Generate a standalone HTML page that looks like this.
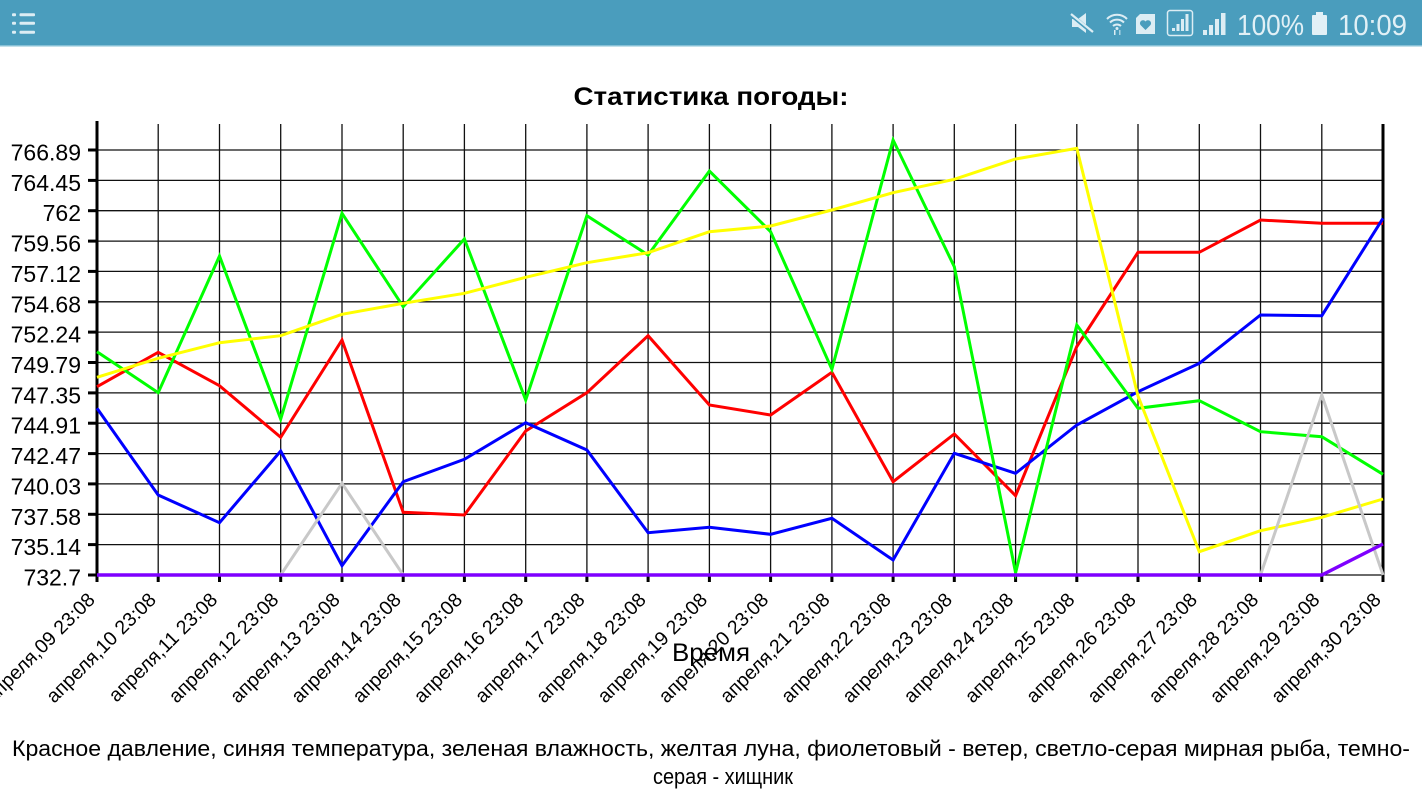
<!DOCTYPE html>
<html>
<head>
<meta charset="utf-8">
<style>
html,body{margin:0;padding:0;background:#fff;}
svg{display:block;}
text{font-family:"Liberation Sans","DejaVu Sans",sans-serif;}
</style>
</head>
<body>
<svg width="1422" height="800" viewBox="0 0 1422 800" xmlns="http://www.w3.org/2000/svg">
<rect x="0" y="0" width="1422" height="800" fill="#ffffff"/>
<!-- status bar -->
<rect x="0" y="0" width="1422" height="46" fill="#4a9dbd"/>
<rect x="0" y="45" width="1422" height="1.5" fill="#86c0d6"/>
<g fill="#dcedf4">
  <rect x="12" y="13.3" width="4" height="3" rx="1"/>
  <rect x="19.5" y="13.3" width="15.5" height="3" rx="1"/>
  <rect x="12" y="21.8" width="4" height="3" rx="1"/>
  <rect x="19.5" y="21.8" width="15.5" height="3" rx="1"/>
  <rect x="12" y="30.8" width="4" height="3" rx="1"/>
  <rect x="19.5" y="30.8" width="15.5" height="3" rx="1"/>
</g>
<g fill="#dcedf4" stroke="none">
  <!-- mute speaker -->
  <polygon points="1072,19 1078,19 1086,13 1086,33 1078,27 1072,27"/>
  <line x1="1070" y1="14" x2="1093" y2="33" stroke="#4a9dbd" stroke-width="4"/>
  <line x1="1071" y1="14" x2="1093" y2="32" stroke="#dcedf4" stroke-width="2.2"/>
  <!-- wifi -->
  <path d="M1107,19 A14,14 0 0 1 1127,19" fill="none" stroke="#dcedf4" stroke-width="2"/>
  <path d="M1110,22.5 A10,10 0 0 1 1124,22.5" fill="none" stroke="#dcedf4" stroke-width="2"/>
  <path d="M1113,26 A6,6 0 0 1 1121,26" fill="none" stroke="#dcedf4" stroke-width="2"/>
  <circle cx="1117" cy="28.5" r="1.5"/>
  <rect x="1114" y="30" width="1.5" height="5"/>
  <rect x="1119" y="30" width="1.5" height="5" fill="#a9d2e2"/>
  <!-- heart square -->
  <path d="M1140,14 L1155,14 L1155,34 L1136,34 L1136,18 Z"/>
  <path d="M1145.5,30 L1140.5,25 A2.8,2.8 0 0 1 1145.5,21.5 A2.8,2.8 0 0 1 1150.5,25 Z" fill="#4a9dbd"/>
  <!-- signal box -->
  <rect x="1167.5" y="10.5" width="25" height="25" rx="2.5" fill="none" stroke="#dcedf4" stroke-width="1.5"/>
  <rect x="1172" y="28" width="3" height="3"/>
  <rect x="1176.5" y="24" width="3" height="7"/>
  <rect x="1181" y="19" width="3" height="12"/>
  <rect x="1185.5" y="14" width="3" height="17"/>
  <!-- signal bars -->
  <rect x="1203" y="30" width="4" height="5"/>
  <rect x="1209" y="25" width="4" height="10"/>
  <rect x="1215" y="19" width="4" height="16"/>
  <rect x="1221" y="13" width="4.5" height="22"/>
</g>
<text x="1237" y="35" font-size="29" fill="#e1f0f6" textLength="67" lengthAdjust="spacingAndGlyphs">100%</text>
<rect x="1312" y="15" width="15" height="20" rx="1" fill="#e1f0f6"/>
<rect x="1316" y="12" width="7" height="4" fill="#e1f0f6"/>
<text x="1338" y="35" font-size="29" fill="#e1f0f6" textLength="69" lengthAdjust="spacingAndGlyphs">10:09</text>

<!-- title -->
<text x="711" y="105" font-size="25" font-weight="bold" text-anchor="middle" fill="#000" textLength="275" lengthAdjust="spacingAndGlyphs">Статистика погоды:</text>

<!-- grid -->
<g stroke="#111" stroke-width="1.3" fill="none">
  <line x1="158.2" y1="124" x2="158.2" y2="575"/>
  <line x1="219.5" y1="124" x2="219.5" y2="575"/>
  <line x1="280.7" y1="124" x2="280.7" y2="575"/>
  <line x1="342" y1="124" x2="342" y2="575"/>
  <line x1="403.2" y1="124" x2="403.2" y2="575"/>
  <line x1="464.4" y1="124" x2="464.4" y2="575"/>
  <line x1="525.7" y1="124" x2="525.7" y2="575"/>
  <line x1="586.9" y1="124" x2="586.9" y2="575"/>
  <line x1="648.1" y1="124" x2="648.1" y2="575"/>
  <line x1="709.4" y1="124" x2="709.4" y2="575"/>
  <line x1="770.6" y1="124" x2="770.6" y2="575"/>
  <line x1="831.9" y1="124" x2="831.9" y2="575"/>
  <line x1="893.1" y1="124" x2="893.1" y2="575"/>
  <line x1="954.3" y1="124" x2="954.3" y2="575"/>
  <line x1="1015.6" y1="124" x2="1015.6" y2="575"/>
  <line x1="1076.8" y1="124" x2="1076.8" y2="575"/>
  <line x1="1138" y1="124" x2="1138" y2="575"/>
  <line x1="1199.3" y1="124" x2="1199.3" y2="575"/>
  <line x1="1260.5" y1="124" x2="1260.5" y2="575"/>
  <line x1="1321.8" y1="124" x2="1321.8" y2="575"/>

  <line x1="97" y1="150" x2="1383" y2="150"/>
  <line x1="97" y1="180.4" x2="1383" y2="180.4"/>
  <line x1="97" y1="210.7" x2="1383" y2="210.7"/>
  <line x1="97" y1="241.1" x2="1383" y2="241.1"/>
  <line x1="97" y1="271.4" x2="1383" y2="271.4"/>
  <line x1="97" y1="301.8" x2="1383" y2="301.8"/>
  <line x1="97" y1="332.1" x2="1383" y2="332.1"/>
  <line x1="97" y1="362.5" x2="1383" y2="362.5"/>
  <line x1="97" y1="392.9" x2="1383" y2="392.9"/>
  <line x1="97" y1="423.2" x2="1383" y2="423.2"/>
  <line x1="97" y1="453.6" x2="1383" y2="453.6"/>
  <line x1="97" y1="483.9" x2="1383" y2="483.9"/>
  <line x1="97" y1="514.3" x2="1383" y2="514.3"/>
  <line x1="97" y1="544.6" x2="1383" y2="544.6"/>
  <line x1="97" y1="575" x2="1383" y2="575"/>
</g>

<!-- axes -->
<g stroke="#000" stroke-width="3" fill="none">
  <line x1="97" y1="121" x2="97" y2="582"/>
  <line x1="1383" y1="124" x2="1383" y2="582"/>
  <!-- y ticks -->
  <line x1="88" y1="150" x2="97" y2="150"/>
  <line x1="88" y1="180.4" x2="97" y2="180.4"/>
  <line x1="88" y1="210.7" x2="97" y2="210.7"/>
  <line x1="88" y1="241.1" x2="97" y2="241.1"/>
  <line x1="88" y1="271.4" x2="97" y2="271.4"/>
  <line x1="88" y1="301.8" x2="97" y2="301.8"/>
  <line x1="88" y1="332.1" x2="97" y2="332.1"/>
  <line x1="88" y1="362.5" x2="97" y2="362.5"/>
  <line x1="88" y1="392.9" x2="97" y2="392.9"/>
  <line x1="88" y1="423.2" x2="97" y2="423.2"/>
  <line x1="88" y1="453.6" x2="97" y2="453.6"/>
  <line x1="88" y1="483.9" x2="97" y2="483.9"/>
  <line x1="88" y1="514.3" x2="97" y2="514.3"/>
  <line x1="88" y1="544.6" x2="97" y2="544.6"/>
  <line x1="88" y1="575" x2="97" y2="575"/>
  <!-- x ticks -->
  <line x1="158.2" y1="575" x2="158.2" y2="582"/>
  <line x1="219.5" y1="575" x2="219.5" y2="582"/>
  <line x1="280.7" y1="575" x2="280.7" y2="582"/>
  <line x1="342" y1="575" x2="342" y2="582"/>
  <line x1="403.2" y1="575" x2="403.2" y2="582"/>
  <line x1="464.4" y1="575" x2="464.4" y2="582"/>
  <line x1="525.7" y1="575" x2="525.7" y2="582"/>
  <line x1="586.9" y1="575" x2="586.9" y2="582"/>
  <line x1="648.1" y1="575" x2="648.1" y2="582"/>
  <line x1="709.4" y1="575" x2="709.4" y2="582"/>
  <line x1="770.6" y1="575" x2="770.6" y2="582"/>
  <line x1="831.9" y1="575" x2="831.9" y2="582"/>
  <line x1="893.1" y1="575" x2="893.1" y2="582"/>
  <line x1="954.3" y1="575" x2="954.3" y2="582"/>
  <line x1="1015.6" y1="575" x2="1015.6" y2="582"/>
  <line x1="1076.8" y1="575" x2="1076.8" y2="582"/>
  <line x1="1138" y1="575" x2="1138" y2="582"/>
  <line x1="1199.3" y1="575" x2="1199.3" y2="582"/>
  <line x1="1260.5" y1="575" x2="1260.5" y2="582"/>
  <line x1="1321.8" y1="575" x2="1321.8" y2="582"/>
</g>

<!-- y labels -->
<g font-size="23" fill="#000" text-anchor="end">
  <text x="81" y="160.5">766.89</text>
  <text x="81" y="190.9">764.45</text>
  <text x="81" y="221.2">762</text>
  <text x="81" y="251.6">759.56</text>
  <text x="81" y="281.9">757.12</text>
  <text x="81" y="312.3">754.68</text>
  <text x="81" y="342.6">752.24</text>
  <text x="81" y="373">749.79</text>
  <text x="81" y="403.4">747.35</text>
  <text x="81" y="433.7">744.91</text>
  <text x="81" y="464.1">742.47</text>
  <text x="81" y="494.4">740.03</text>
  <text x="81" y="524.8">737.58</text>
  <text x="81" y="555.1">735.14</text>
  <text x="81" y="585.5">732.7</text>
</g>

<!-- series -->
<g fill="none" stroke-width="3" stroke-linejoin="miter" stroke-miterlimit="10">
  <polyline stroke="#ff0000" points="97,386.7 158.2,352.3 219.5,385.7 280.7,437.3 342,340 403.2,512.3 464.4,515 525.7,431 586.9,392.7 648.1,335.7 709.4,405 770.6,415 831.9,372.3 893.1,481.7 954.3,434 1015.6,495.7 1076.8,346.5 1138,252.3 1199.3,252.3 1260.5,220 1321.8,223.3 1383,223.3"/>
  <polyline stroke="#0000ff" points="97,408.3 158.2,495 219.5,522.7 280.7,451 342,565.7 403.2,481.7 464.4,459.3 525.7,422.7 586.9,450 648.1,532.7 709.4,527.3 770.6,534.3 831.9,518.3 893.1,560 954.3,453.3 1015.6,473.3 1076.8,425 1138,391.7 1199.3,363.3 1260.5,315 1321.8,315.7 1383,218.3"/>
  <polyline stroke="#00ff00" points="97,351.7 158.2,392.7 219.5,256 280.7,419 342,213.3 403.2,306.7 464.4,239 525.7,400 586.9,215.7 648.1,255 709.4,171 770.6,231.7 831.9,369.3 893.1,140 954.3,266.7 1015.6,572.7 1076.8,325 1138,408.3 1199.3,400.7 1260.5,431.7 1321.8,436.7 1383,474.3"/>
  <polyline stroke="#ffff00" points="97,377.3 158.2,358.3 219.5,342.7 280.7,335.7 342,314.3 403.2,303.3 464.4,293.3 525.7,277.3 586.9,262.7 648.1,252.7 709.4,231.7 770.6,226 831.9,210 893.1,192.7 954.3,179.3 1015.6,159 1076.8,148.3 1138,396 1199.3,551.7 1260.5,530.7 1321.8,517.3 1383,499"/>
  <polyline stroke="#c8c8c8" points="97,575 280.7,575 342,483.3 403.2,575 1260.5,575 1321.8,395 1383,575"/>
  <polyline stroke="#7f00ff" stroke-width="3.4" points="97,575 1321.8,575 1383,544"/>
</g>

<!-- x labels -->
<g font-size="19.5" fill="#000" text-anchor="end">
  <text transform="translate(96,601) rotate(-45)">апреля,09 23:08</text>
  <text transform="translate(157.2,601) rotate(-45)">апреля,10 23:08</text>
  <text transform="translate(218.5,601) rotate(-45)">апреля,11 23:08</text>
  <text transform="translate(279.7,601) rotate(-45)">апреля,12 23:08</text>
  <text transform="translate(341,601) rotate(-45)">апреля,13 23:08</text>
  <text transform="translate(402.2,601) rotate(-45)">апреля,14 23:08</text>
  <text transform="translate(463.4,601) rotate(-45)">апреля,15 23:08</text>
  <text transform="translate(524.7,601) rotate(-45)">апреля,16 23:08</text>
  <text transform="translate(585.9,601) rotate(-45)">апреля,17 23:08</text>
  <text transform="translate(647.1,601) rotate(-45)">апреля,18 23:08</text>
  <text transform="translate(708.4,601) rotate(-45)">апреля,19 23:08</text>
  <text transform="translate(769.6,601) rotate(-45)">апреля,20 23:08</text>
  <text transform="translate(830.9,601) rotate(-45)">апреля,21 23:08</text>
  <text transform="translate(892.1,601) rotate(-45)">апреля,22 23:08</text>
  <text transform="translate(953.3,601) rotate(-45)">апреля,23 23:08</text>
  <text transform="translate(1014.6,601) rotate(-45)">апреля,24 23:08</text>
  <text transform="translate(1075.8,601) rotate(-45)">апреля,25 23:08</text>
  <text transform="translate(1137,601) rotate(-45)">апреля,26 23:08</text>
  <text transform="translate(1198.3,601) rotate(-45)">апреля,27 23:08</text>
  <text transform="translate(1259.5,601) rotate(-45)">апреля,28 23:08</text>
  <text transform="translate(1320.8,601) rotate(-45)">апреля,29 23:08</text>
  <text transform="translate(1382,601) rotate(-45)">апреля,30 23:08</text>
</g>

<!-- axis title -->
<text x="711" y="661" font-size="25" text-anchor="middle" fill="#000" textLength="78" lengthAdjust="spacingAndGlyphs">Время</text>

<!-- legend text -->
<text x="711" y="756" font-size="22" text-anchor="middle" fill="#000" textLength="1398" lengthAdjust="spacingAndGlyphs">Красное давление, синяя температура, зеленая влажность, желтая луна, фиолетовый - ветер, светло-серая мирная рыба, темно-</text>
<text x="723" y="784" font-size="22" text-anchor="middle" fill="#000" textLength="140" lengthAdjust="spacingAndGlyphs">серая - хищник</text>
</svg>
</body>
</html>
